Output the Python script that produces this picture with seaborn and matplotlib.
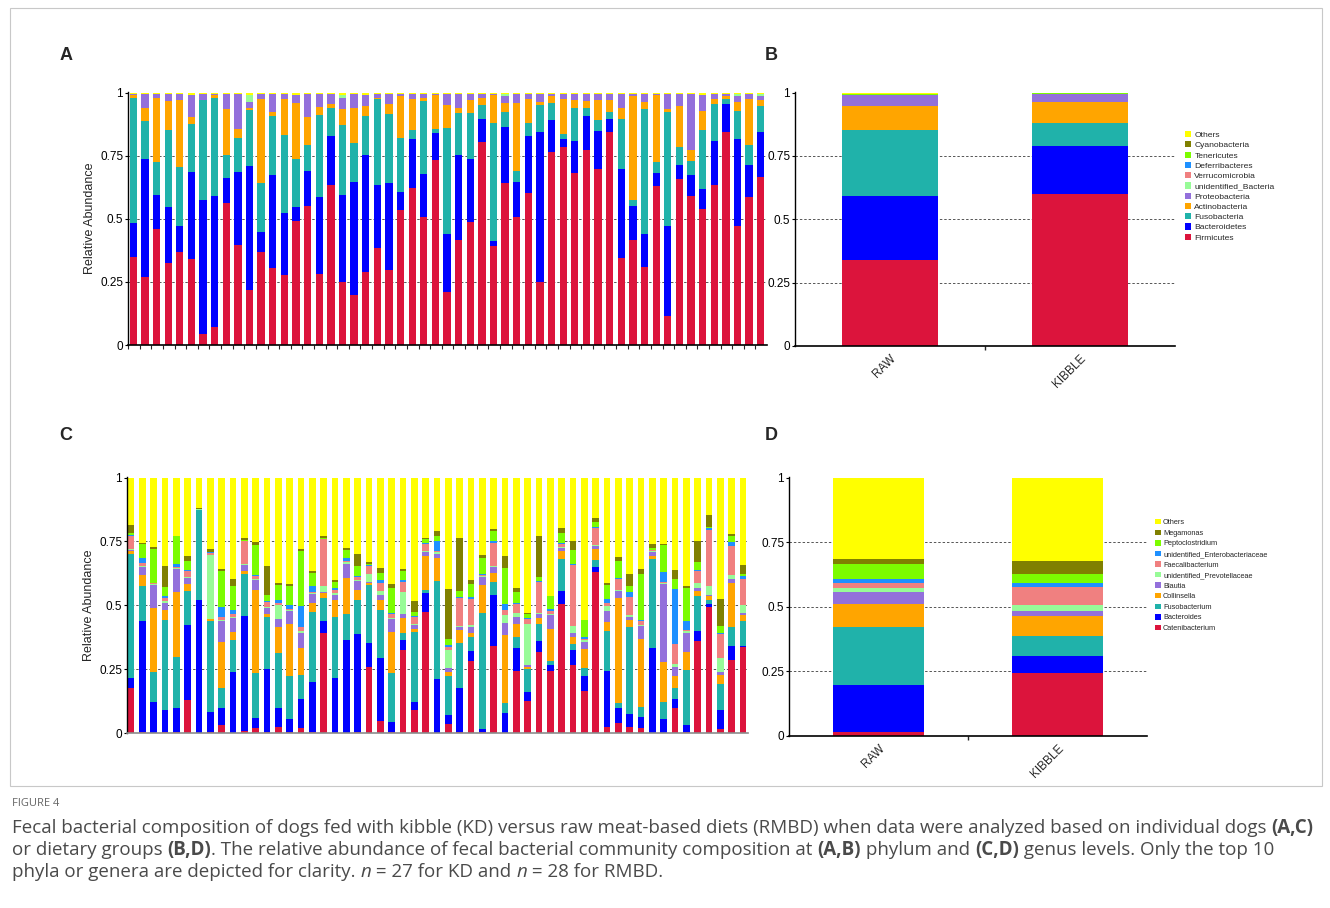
import matplotlib
matplotlib.use("Agg")
import numpy as np
import seaborn as sns
import matplotlib.pyplot as plt
from matplotlib.patches import Patch, Rectangle

# ---------------- data (cumulative stack tops) ----------------
phyla = ["Firmicutes", "Bacteroidetes", "Fusobacteria", "Actinobacteria", "Proteobacteria",
         "unidentified_Bacteria", "Verrucomicrobia", "Deferribacteres", "Tenericutes",
         "Cyanobacteria", "Others"]
genera = ["Catenibacterium", "Bacteroides", "Fusobacterium", "Collinsella", "Blautia",
          "unidentified_Prevotellaceae", "Faecalibacterium", "unidentified_Enterobacteriaceae",
          "Peptoclostridium", "Megamonas", "Others"]
taxon_colors = ["#DC143C", "#0000FF", "#20B2AA", "#FFA500", "#9370DB", "#98FB98",
                "#F08080", "#1E90FF", "#7CFC00", "#808000", "#FFFF00"]
groups = ["RAW", "KIBBLE"]

# panel A: individual dogs, phylum level
a_firmicutes_top = [0.350, 0.268, 0.459, 0.323, 0.367, 0.339, 0.042, 0.073, 0.563, 0.398,
                    0.218, 0.369, 0.306, 0.277, 0.492, 0.550, 0.280, 0.633, 0.248, 0.200,
                    0.288, 0.385, 0.297, 0.534, 0.623, 0.508, 0.732, 0.211, 0.416, 0.488,
                    0.805, 0.393, 0.640, 0.508, 0.603, 0.251, 0.765, 0.785, 0.683, 0.772,
                    0.697, 0.842, 0.346, 0.416, 0.310, 0.629, 0.115, 0.656, 0.590, 0.538,
                    0.633, 0.844, 0.472, 0.587, 0.666]
a_bacteroidetes_top = [0.485, 0.736, 0.594, 0.547, 0.471, 0.686, 0.574, 0.590, 0.662, 0.686,
                       0.708, 0.446, 0.675, 0.524, 0.547, 0.689, 0.587, 0.827, 0.594, 0.644,
                       0.752, 0.633, 0.640, 0.604, 0.815, 0.679, 0.840, 0.438, 0.752, 0.735,
                       0.894, 0.413, 0.864, 0.646, 0.828, 0.844, 0.890, 0.815, 0.807, 0.908,
                       0.847, 0.894, 0.697, 0.551, 0.439, 0.683, 0.471, 0.712, 0.675, 0.617,
                       0.809, 0.954, 0.815, 0.712, 0.844]
a_fusobacteria_top = [0.980, 0.887, 0.726, 0.851, 0.706, 0.877, 0.970, 0.980, 0.752, 0.818,
                      0.930, 0.640, 0.906, 0.831, 0.735, 0.794, 0.910, 0.937, 0.871, 0.801,
                      0.906, 0.974, 0.913, 0.821, 0.851, 0.966, 0.854, 0.858, 0.917, 0.917,
                      0.952, 0.880, 0.923, 0.689, 0.880, 0.952, 0.960, 0.835, 0.939, 0.939,
                      0.893, 0.923, 0.897, 0.574, 0.934, 0.723, 0.921, 0.785, 0.728, 0.851,
                      0.956, 0.976, 0.926, 0.794, 0.947]
a_actinobacteria_top = [0.990, 0.937, 0.979, 0.966, 0.970, 0.904, 0.972, 0.989, 0.933, 0.854,
                        0.937, 0.976, 0.923, 0.974, 0.959, 0.904, 0.943, 0.956, 0.933, 0.939,
                        0.946, 0.980, 0.954, 0.985, 0.974, 0.980, 0.989, 0.950, 0.937, 0.970,
                        0.980, 0.989, 0.960, 0.959, 0.976, 0.963, 0.985, 0.974, 0.970, 0.967,
                        0.970, 0.970, 0.939, 0.987, 0.963, 0.992, 0.934, 0.947, 0.774, 0.926,
                        0.976, 0.987, 0.963, 0.974, 0.970]
a_proteobacteria_top = [0.993, 0.993, 0.993, 0.993, 0.993, 0.990, 0.993, 0.993, 0.993, 0.993,
                        0.962, 0.993, 0.993, 0.993, 0.990, 0.993, 0.993, 0.993, 0.980, 0.993,
                        0.990, 0.993, 0.993, 0.993, 0.993, 0.993, 0.993, 0.993, 0.993, 0.993,
                        0.993, 0.993, 0.988, 0.993, 0.993, 0.993, 0.993, 0.993, 0.993, 0.993,
                        0.993, 0.993, 0.993, 0.993, 0.993, 0.993, 0.993, 0.993, 0.993, 0.990,
                        0.993, 0.993, 0.985, 0.993, 0.985]
a_unidentified_top = [0.993, 0.993, 0.993, 0.993, 0.993, 0.990, 0.993, 0.993, 0.993, 0.993,
                      0.990, 0.993, 0.993, 0.993, 0.990, 0.993, 0.993, 0.993, 0.990, 0.993,
                      0.990, 0.993, 0.993, 0.993, 0.993, 0.993, 0.993, 0.993, 0.993, 0.993,
                      0.993, 0.993, 0.993, 0.993, 0.993, 0.993, 0.993, 0.993, 0.993, 0.993,
                      0.993, 0.993, 0.993, 0.993, 0.993, 0.993, 0.993, 0.993, 0.993, 0.990,
                      0.993, 0.993, 0.993, 0.993, 0.993]

# panel B: dietary groups, phylum level
b_firmicutes_top = [0.338, 0.601]
b_bacteroidetes_top = [0.591, 0.788]
b_fusobacteria_top = [0.854, 0.880]
b_actinobacteria_top = [0.947, 0.963]
b_proteobacteria_top = [0.991, 0.995]
b_minor_top = [0.995, 0.997]

# panel C: individual dogs, genus level
c_catenibacterium_top = [0.178, 0.005, 0.000, 0.005, 0.003, 0.129, 0.000, 0.005, 0.031, 0.000,
                         0.008, 0.018, 0.005, 0.022, 0.005, 0.018, 0.003, 0.391, 0.000, 0.000,
                         0.005, 0.259, 0.047, 0.005, 0.324, 0.090, 0.474, 0.000, 0.035, 0.005,
                         0.281, 0.005, 0.341, 0.000, 0.243, 0.125, 0.318, 0.243, 0.503, 0.268,
                         0.164, 0.630, 0.025, 0.038, 0.025, 0.018, 0.000, 0.000, 0.099, 0.005,
                         0.359, 0.493, 0.016, 0.285, 0.335]
c_bacteroides_top = [0.217, 0.439, 0.120, 0.090, 0.099, 0.422, 0.522, 0.081, 0.099, 0.237,
                     0.458, 0.057, 0.250, 0.099, 0.055, 0.133, 0.198, 0.439, 0.214, 0.363,
                     0.389, 0.353, 0.292, 0.042, 0.363, 0.120, 0.548, 0.211, 0.070, 0.177,
                     0.322, 0.014, 0.542, 0.077, 0.333, 0.161, 0.359, 0.268, 0.556, 0.324,
                     0.224, 0.650, 0.243, 0.096, 0.074, 0.064, 0.331, 0.053, 0.132, 0.031,
                     0.398, 0.503, 0.090, 0.341, 0.341]
c_fusobacterium_top = [0.702, 0.576, 0.240, 0.441, 0.296, 0.556, 0.871, 0.438, 0.178, 0.363,
                       0.624, 0.233, 0.454, 0.315, 0.224, 0.227, 0.474, 0.529, 0.454, 0.467,
                       0.520, 0.578, 0.483, 0.233, 0.393, 0.396, 0.559, 0.594, 0.223, 0.353,
                       0.374, 0.471, 0.591, 0.116, 0.374, 0.249, 0.428, 0.283, 0.682, 0.350,
                       0.255, 0.676, 0.398, 0.116, 0.415, 0.100, 0.682, 0.120, 0.178, 0.246,
                       0.536, 0.522, 0.190, 0.413, 0.438]
c_collinsella_top = [0.711, 0.617, 0.490, 0.483, 0.552, 0.582, 0.872, 0.445, 0.357, 0.396,
                     0.634, 0.561, 0.467, 0.415, 0.428, 0.333, 0.507, 0.548, 0.520, 0.607,
                     0.559, 0.587, 0.522, 0.396, 0.451, 0.409, 0.691, 0.686, 0.240, 0.405,
                     0.393, 0.578, 0.626, 0.383, 0.426, 0.259, 0.451, 0.409, 0.711, 0.374,
                     0.327, 0.721, 0.435, 0.529, 0.441, 0.367, 0.691, 0.279, 0.224, 0.318,
                     0.556, 0.535, 0.227, 0.589, 0.461]
c_blautia_top = [0.715, 0.650, 0.581, 0.509, 0.643, 0.607, 0.874, 0.448, 0.439, 0.451,
                 0.656, 0.600, 0.491, 0.445, 0.477, 0.392, 0.546, 0.551, 0.539, 0.663,
                 0.594, 0.591, 0.542, 0.448, 0.467, 0.422, 0.708, 0.702, 0.253, 0.415,
                 0.415, 0.611, 0.650, 0.432, 0.454, 0.268, 0.464, 0.461, 0.725, 0.393,
                 0.357, 0.732, 0.477, 0.556, 0.454, 0.418, 0.708, 0.585, 0.259, 0.392,
                 0.569, 0.539, 0.240, 0.602, 0.470]
c_prevotellaceae_top = [0.719, 0.654, 0.584, 0.516, 0.647, 0.611, 0.875, 0.695, 0.444, 0.455,
                        0.660, 0.604, 0.494, 0.500, 0.481, 0.398, 0.549, 0.574, 0.548, 0.670,
                        0.598, 0.624, 0.556, 0.452, 0.552, 0.428, 0.711, 0.708, 0.324, 0.418,
                        0.422, 0.615, 0.654, 0.461, 0.470, 0.426, 0.470, 0.465, 0.729, 0.419,
                        0.363, 0.737, 0.496, 0.560, 0.461, 0.422, 0.711, 0.587, 0.272, 0.398,
                        0.587, 0.576, 0.292, 0.617, 0.500]
c_faecalibacterium_top = [0.773, 0.665, 0.587, 0.529, 0.650, 0.634, 0.876, 0.706, 0.454, 0.467,
                          0.750, 0.613, 0.513, 0.507, 0.487, 0.415, 0.552, 0.758, 0.559, 0.674,
                          0.611, 0.654, 0.589, 0.465, 0.591, 0.454, 0.741, 0.712, 0.337, 0.529,
                          0.526, 0.619, 0.743, 0.483, 0.504, 0.445, 0.591, 0.478, 0.738, 0.656,
                          0.367, 0.803, 0.507, 0.604, 0.533, 0.439, 0.715, 0.591, 0.350, 0.405,
                          0.634, 0.796, 0.389, 0.730, 0.604]
c_enterobacteriaceae_top = [0.776, 0.685, 0.589, 0.535, 0.663, 0.639, 0.877, 0.708, 0.493, 0.483,
                            0.752, 0.620, 0.516, 0.520, 0.500, 0.496, 0.576, 0.760, 0.569, 0.686,
                            0.615, 0.657, 0.598, 0.470, 0.600, 0.457, 0.744, 0.751, 0.344, 0.531,
                            0.533, 0.624, 0.750, 0.506, 0.510, 0.451, 0.594, 0.487, 0.745, 0.663,
                            0.374, 0.806, 0.523, 0.606, 0.552, 0.441, 0.718, 0.630, 0.563, 0.439,
                            0.639, 0.802, 0.392, 0.747, 0.613]
c_peptoclostridium_top = [0.783, 0.738, 0.721, 0.572, 0.770, 0.673, 0.878, 0.710, 0.634, 0.574,
                          0.755, 0.734, 0.539, 0.581, 0.576, 0.711, 0.626, 0.763, 0.591, 0.717,
                          0.652, 0.660, 0.626, 0.569, 0.634, 0.474, 0.758, 0.770, 0.366, 0.556,
                          0.582, 0.686, 0.789, 0.647, 0.552, 0.467, 0.611, 0.535, 0.783, 0.715,
                          0.441, 0.826, 0.578, 0.673, 0.576, 0.624, 0.725, 0.734, 0.604, 0.569,
                          0.669, 0.806, 0.418, 0.771, 0.624]
c_megamonas_top = [0.816, 0.745, 0.728, 0.652, 0.773, 0.691, 0.882, 0.721, 0.643, 0.604,
                   0.763, 0.747, 0.652, 0.589, 0.582, 0.721, 0.633, 0.771, 0.598, 0.724,
                   0.699, 0.669, 0.646, 0.585, 0.641, 0.517, 0.763, 0.789, 0.563, 0.764,
                   0.600, 0.695, 0.797, 0.691, 0.568, 0.470, 0.773, 0.538, 0.803, 0.751,
                   0.444, 0.841, 0.589, 0.689, 0.621, 0.643, 0.741, 0.738, 0.639, 0.574,
                   0.751, 0.852, 0.526, 0.780, 0.659]

# panel D: dietary groups, genus level
d_catenibacterium_top = [0.015, 0.244]
d_bacteroides_top = [0.196, 0.308]
d_fusobacterium_top = [0.422, 0.387]
d_collinsella_top = [0.512, 0.463]
d_blautia_top = [0.557, 0.483]
d_prevotellaceae_top = [0.574, 0.508]
d_faecalibacterium_top = [0.590, 0.577]
d_enterobacteriaceae_top = [0.606, 0.592]
d_peptoclostridium_top = [0.667, 0.628]
d_megamonas_top = [0.686, 0.676]

# ---------------- figure ----------------
sns.set_style("ticks")
plt.rcParams["font.family"] = ["Liberation Sans", "DejaVu Sans"]

W, H = 1330, 908
fig = plt.figure(figsize=(W / 100, H / 100), dpi=100)


def px_axes(left, top, right, bottom):
    return fig.add_axes([left / W, 1 - bottom / H, (right - left) / W, (bottom - top) / H])


def stacked(ax, x, tops, colors, width):
    # draw from the highest cumulative layer down so lower layers sit on top
    for top, col in zip(reversed(tops), reversed(colors)):
        sns.barplot(x=x, y=top, color=col, width=width, saturation=1, errorbar=None,
                    ax=ax, linewidth=0, zorder=2)


def style_axis(ax, bottom_color="black"):
    for y in (0.25, 0.5, 0.75):
        ax.axhline(y, color="#555555", lw=0.7, ls=(0, (2.5, 2)), zorder=0)
    sns.despine(ax=ax)
    ax.spines["left"].set_color("black")
    ax.spines["left"].set_linewidth(1.0)
    ax.spines["bottom"].set_color(bottom_color)
    ax.spines["bottom"].set_linewidth(1.2)
    ax.set_ylim(0, 1.002)
    ax.set_yticks([0, 0.25, 0.5, 0.75, 1])
    ax.set_yticklabels(["0", "0.25", "0.5", "0.75", "1"])
    ax.tick_params(axis="y", length=2.5, width=0.8, pad=1, labelsize=8.5, colors="black")
    ax.set_xlabel("")
    ax.set_ylabel("")


n_dogs = len(a_firmicutes_top)
dogs = list(range(n_dogs))
others_a = [1.0] * n_dogs

# ---- A
ax_a = px_axes(128, 92, 767, 345)
a_tops = [a_firmicutes_top, a_bacteroidetes_top, a_fusobacteria_top, a_actinobacteria_top,
          a_proteobacteria_top, a_unidentified_top, others_a]
a_cols = taxon_colors[:6] + [taxon_colors[-1]]
stacked(ax_a, dogs, a_tops, a_cols, 0.63)
style_axis(ax_a)
ax_a.set_xlim(-0.46, n_dogs - 0.46)
ax_a.set_xticks(np.arange(n_dogs) - 0.45)
ax_a.set_xticklabels([])
ax_a.tick_params(axis="x", length=3, width=0.8)
ax_a.set_ylabel("Relative Abundance", fontsize=9, labelpad=3)

# ---- B
ax_b = px_axes(795, 92, 1175, 346)
b_tops = [b_firmicutes_top, b_bacteroidetes_top, b_fusobacteria_top, b_actinobacteria_top,
          b_proteobacteria_top, b_minor_top, [1.0, 1.0]]
b_cols = taxon_colors[:5] + [taxon_colors[8], taxon_colors[-1]]
stacked(ax_b, groups, b_tops, b_cols, 0.505)
style_axis(ax_b)
ax_b.set_xlim(-0.5, 1.5)

# ---- C
ax_c = px_axes(127, 477, 748, 733)
c_tops = [c_catenibacterium_top, c_bacteroides_top, c_fusobacterium_top, c_collinsella_top,
          c_blautia_top, c_prevotellaceae_top, c_faecalibacterium_top, c_enterobacteriaceae_top,
          c_peptoclostridium_top, c_megamonas_top, [1.0] * n_dogs]
stacked(ax_c, dogs, c_tops, taxon_colors, 0.59)
style_axis(ax_c, bottom_color="#8c8c8c")
ax_c.set_xlim(-0.35, n_dogs - 0.56)
ax_c.set_xticks([])
ax_c.set_ylabel("Relative Abundance", fontsize=9, labelpad=3)

# ---- D
ax_d = px_axes(789, 477, 1147, 736)
d_tops = [d_catenibacterium_top, d_bacteroides_top, d_fusobacterium_top, d_collinsella_top,
          d_blautia_top, d_prevotellaceae_top, d_faecalibacterium_top, d_enterobacteriaceae_top,
          d_peptoclostridium_top, d_megamonas_top, [1.0, 1.0]]
stacked(ax_d, groups, d_tops, taxon_colors, 0.51)
style_axis(ax_d)
ax_d.set_xlim(-0.5, 1.5)

for ax in (ax_b, ax_d):
    ax.set_xticks([0, 1])
    ax.set_xticklabels(groups, rotation=45, ha="right", va="top", rotation_mode="anchor",
                       fontsize=8.5)
    ax.tick_params(axis="x", which="major", length=0, pad=5)
    ax.set_xticks([0.5], minor=True)
    ax.tick_params(axis="x", which="minor", length=3, width=1)

# legends
legend_specs = [(ax_b, phyla, (1185, 131), 6.1, 0.26), (ax_d, genera, (1155, 519), 5.3, 0.45)]
for ax, names, (lx, ly), fsize, lspace in legend_specs:
    handles = [Patch(facecolor=c, edgecolor="none", label=nm)
               for nm, c in zip(reversed(names), reversed(taxon_colors))]
    ax.legend(handles=handles, loc="upper left", bbox_to_anchor=(lx / W, 1 - ly / H),
              bbox_transform=fig.transFigure, frameon=False, fontsize=fsize,
              handlelength=0.75, handleheight=0.75, labelspacing=lspace, handletextpad=0.35,
              borderpad=0, borderaxespad=0)

# panel letters
for letter, (x, y) in zip("ABCD", [(66, 55), (771, 55), (66, 435), (771, 435)]):
    fig.text(x / W, 1 - y / H, letter, fontsize=13, fontweight="bold", ha="center", va="center")

# frame around figure area
fig.patches.append(Rectangle((10 / W, 1 - 786 / H), 1312 / W, 778 / H, transform=fig.transFigure,
                             fill=False, edgecolor="#c8c8c8", lw=0.8))

# ---------------- caption ----------------
renderer = fig.canvas.get_renderer()
cap_font = ["Open Sans", "DejaVu Sans"]
cap_color = "#4a4a4a"


def run_width(s, size, weight, style):
    kw = dict(fontsize=size, fontweight=weight, fontstyle=style, family=cap_font)
    t = fig.text(0, 0, "|" + s + "|", **kw)
    w1 = t.get_window_extent(renderer).width
    t.remove()
    t = fig.text(0, 0, "||", **kw)
    w0 = t.get_window_extent(renderer).width
    t.remove()
    return w1 - w0


def draw_runs(runs, x_px, y_px, size):
    x = x_px
    for s, weight, style in runs:
        fig.text(x / W, 1 - y_px / H, s, fontsize=size, fontweight=weight, fontstyle=style,
                 family=cap_font, color=cap_color, ha="left", va="baseline")
        x += run_width(s, size, weight, style)


N, B_, I_ = "normal", "bold", "italic"
line1 = [("Fecal bacterial composition of dogs fed with kibble (KD) versus raw meat-based diets "
          "(RMBD) when data were analyzed based on individual dogs ", N, N), ("(A,C)", B_, N)]
line2 = [("or dietary groups ", N, N), ("(B,D)", B_, N),
         (". The relative abundance of fecal bacterial community composition at ", N, N),
         ("(A,B)", B_, N), (" phylum and ", N, N), ("(C,D)", B_, N),
         (" genus levels. Only the top 10", N, N)]
line3 = [("phyla or genera are depicted for clarity. ", N, N), ("n", N, I_),
         (" = 27 for KD and ", N, N), ("n", N, I_), (" = 28 for RMBD.", N, N)]

base = 10.0
w_line1 = sum(run_width(s, base, w, st) for s, w, st in line1)
cap_size = base * 1304 / w_line1

fig.text(12 / W, 1 - 806 / H, "FIGURE 4", fontsize=8, family=cap_font, color="#666666",
         ha="left", va="baseline")
for i, line in enumerate((line1, line2, line3)):
    draw_runs(line, 12, 833 + 22 * i, cap_size)

fig.savefig("out.png", dpi=100)
